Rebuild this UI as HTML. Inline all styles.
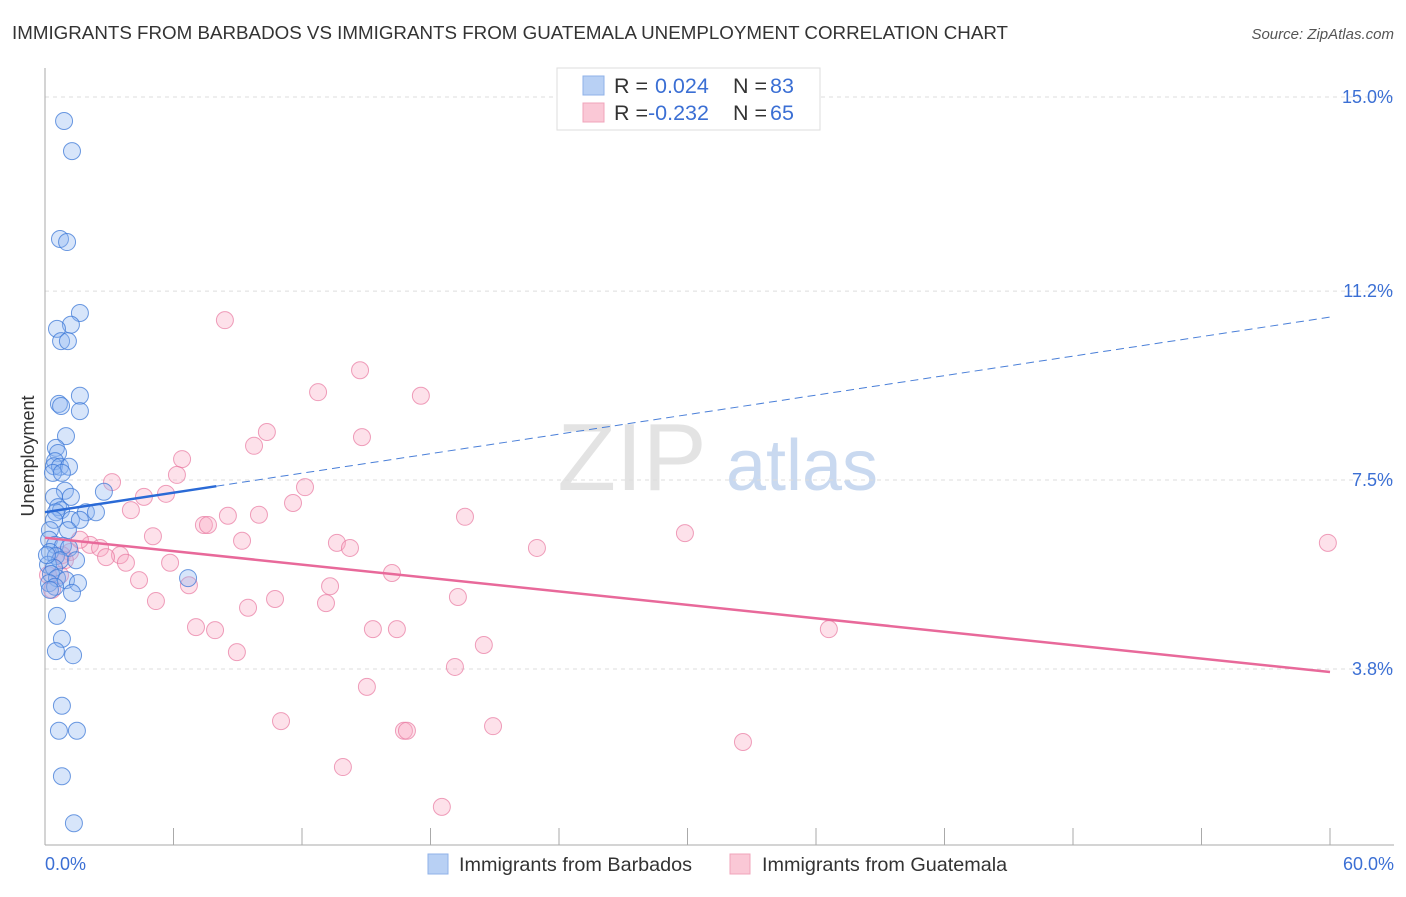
<!DOCTYPE html>
<html><head><meta charset="utf-8">
<style>
body{margin:0;background:#fff;font-family:"Liberation Sans",sans-serif;}
svg text{font-family:"Liberation Sans",sans-serif;}
</style></head>
<body>
<svg id="chart" width="1406" height="892" viewBox="0 0 1406 892" xmlns="http://www.w3.org/2000/svg">
<text x="12" y="39" font-size="18" fill="#333" textLength="996" lengthAdjust="spacingAndGlyphs">IMMIGRANTS FROM BARBADOS VS IMMIGRANTS FROM GUATEMALA UNEMPLOYMENT CORRELATION CHART</text>
<text x="1394" y="39" font-size="15" fill="#555" text-anchor="end" font-style="italic">Source: ZipAtlas.com</text>
<g>
<text x="632" y="490" font-size="96" fill="#ddd" font-family="Liberation Serif" text-anchor="middle" opacity="0.8">ZIP</text>
<text x="802" y="490" font-size="72" fill="#c9d9f0" text-anchor="middle">atlas</text>
</g>
<g id="grid"></g>
<g id="axes"></g>
<g id="points"></g>
<g id="trends"></g>
<text transform="translate(34,456) rotate(-90)" font-size="18" fill="#333" text-anchor="middle">Unemployment</text>
<g>
<rect x="557" y="68" width="263" height="62" fill="#fff" stroke="#ddd"/>
<rect x="583" y="76" width="21" height="19" fill="#b8d0f4" stroke="#8fb2e8"/>
<rect x="583" y="103" width="21" height="19" fill="#fac8d6" stroke="#f0a4bb"/>
<text x="614" y="93" font-size="21.5" fill="#333">R =</text>
<text x="655" y="93" font-size="21.5" fill="#3b6fd4">0.024</text>
<text x="733" y="93" font-size="21.5" fill="#333">N =</text>
<text x="770" y="93" font-size="21.5" fill="#3b6fd4">83</text>
<text x="614" y="120" font-size="21.5" fill="#333">R =</text>
<text x="648" y="120" font-size="21.5" fill="#3b6fd4">-0.232</text>
<text x="733" y="120" font-size="21.5" fill="#333">N =</text>
<text x="770" y="120" font-size="21.5" fill="#3b6fd4">65</text>
</g>
<g>
<rect x="428" y="854" width="20" height="20" fill="#b8d0f4" stroke="#8fb2e8"/>
<text x="459" y="871" font-size="19.8" fill="#333">Immigrants from Barbados</text>
<rect x="730" y="854" width="20" height="20" fill="#fac8d6" stroke="#f0a4bb"/>
<text x="762" y="871" font-size="19.8" fill="#333">Immigrants from Guatemala</text>
</g>
</svg>
<script>
const yTicks=[15.0,11.2,7.5,3.8];
const yTickLabels=["15.0%","11.2%","7.5%","3.8%"];
const xTicks=[0,6,12,18,24,30,36,42,48,54,60];
const xMinLabel="0.0%", xMaxLabel="60.0%";
const barbadosX=[0.89,1.26,0.70,1.03,1.63,1.21,0.56,0.75,1.07,1.63,0.65,0.75,1.63,0.98,0.51,0.61,0.47,0.42,0.70,1.12,0.37,0.79,0.93,2.75,0.42,0.61,1.21,0.75,0.51,1.91,2.38,1.21,1.63,0.42,0.23,1.07,0.19,0.47,0.84,1.12,0.23,0.51,0.70,1.45,0.14,0.42,0.28,0.56,0.98,1.54,0.19,0.47,1.26,6.68,0.56,0.79,0.51,1.31,0.79,0.65,1.49,0.79,1.35,0.23,0.09];
const barbadosY=[14.53,13.94,12.22,12.16,10.77,10.54,10.46,10.22,10.22,9.15,8.99,8.95,8.85,8.36,8.13,8.03,7.87,7.77,7.76,7.76,7.64,7.64,7.29,7.27,7.17,6.97,7.17,6.91,6.87,6.87,6.87,6.72,6.72,6.72,6.52,6.52,6.33,6.23,6.21,6.17,6.09,6.01,5.93,5.93,5.84,5.78,5.66,5.58,5.54,5.48,5.48,5.41,5.29,5.58,4.84,4.39,4.15,4.07,3.08,2.59,2.59,1.70,0.78,5.35,6.03];
const guatemalaX=[8.40,14.71,12.75,17.55,10.36,14.80,9.76,6.40,3.13,6.16,12.14,5.65,4.62,11.58,4.01,8.54,9.99,19.61,7.42,7.61,29.88,5.04,9.20,13.63,14.24,22.97,59.90,2.10,2.57,3.50,2.85,3.78,1.17,0.79,1.63,5.84,16.20,4.39,13.31,6.72,10.74,19.28,5.18,13.12,9.48,7.05,7.94,15.31,16.43,36.60,8.96,20.49,19.14,15.03,11.02,20.92,16.76,16.90,32.59,13.91,18.53,0.33,0.70,0.93,0.14];
const guatemalaY=[10.63,9.65,9.22,9.15,8.44,8.34,8.17,7.91,7.46,7.60,7.36,7.23,7.17,7.05,6.91,6.80,6.82,6.78,6.62,6.62,6.46,6.40,6.31,6.27,6.17,6.17,6.27,6.23,6.17,6.03,5.99,5.88,6.09,6.03,6.33,5.88,5.68,5.54,5.42,5.44,5.17,5.21,5.13,5.09,5.00,4.62,4.56,4.58,4.58,4.58,4.13,4.27,3.84,3.45,2.78,2.68,2.59,2.59,2.37,1.88,1.10,5.35,5.64,5.93,5.64];
const barbadosTrend=[6.87,10.69];
const guatemalaTrend=[6.37,3.74];
const barbadosSolidEnd=8;

const NS="http://www.w3.org/2000/svg";
const X=v=>45+v*(1285/60);
const Y=v=>97+(15-v)*51.07;
function mk(tag,attrs,parent){const e=document.createElementNS(NS,tag);for(const k in attrs)e.setAttribute(k,attrs[k]);parent.appendChild(e);return e;}
const grid=document.getElementById('grid'),axes=document.getElementById('axes'),pts=document.getElementById('points'),tr=document.getElementById('trends');
yTicks.forEach((t,i)=>{
  const l=mk('line',{x1:45,x2:1394,y1:Y(t),y2:Y(t),stroke:'#ddd','stroke-dasharray':'4,4'},grid);
  
  
  const tx=mk('text',{x:1393,y:Y(t)+6,'font-size':18,fill:'#3b6fd4','text-anchor':'end'},axes);
  tx.textContent=yTickLabels[i];
  
  
});
const ya=mk('line',{x1:45,x2:45,y1:68,y2:845,stroke:'#aaa'},axes);


const xa=mk('line',{x1:45,x2:1394,y1:845,y2:845,stroke:'#aaa'},axes);


xTicks.forEach(t=>{
  const l=mk('line',{x1:X(t),x2:X(t),y1:828,y2:845,stroke:'#aaa'},axes);
  
  
});
const xl0=mk('text',{x:45,y:870,'font-size':18,fill:'#3b6fd4'},axes);xl0.textContent=xMinLabel;


const xl1=mk('text',{x:1394,y:870,'font-size':18,fill:'#3b6fd4','text-anchor':'end'},axes);xl1.textContent=xMaxLabel;



guatemalaX.forEach((x,i)=>{
  const c=mk('circle',{cx:X(x),cy:Y(guatemalaY[i]),r:8.5,fill:'rgba(248,170,195,0.35)',stroke:'rgba(232,120,160,0.7)','stroke-width':1},pts);
  
  
});
barbadosX.forEach((x,i)=>{
  const c=mk('circle',{cx:X(x),cy:Y(barbadosY[i]),r:8.5,fill:'rgba(140,180,240,0.35)',stroke:'rgba(60,120,215,0.75)','stroke-width':1},pts);
  
  
});
const bAt=x=>barbadosTrend[0]+(barbadosTrend[1]-barbadosTrend[0])*x/60;
const gAt=x=>guatemalaTrend[0]+(guatemalaTrend[1]-guatemalaTrend[0])*x/60;
const b1=mk('line',{x1:X(0),y1:Y(bAt(0)),x2:X(barbadosSolidEnd),y2:Y(bAt(barbadosSolidEnd)),stroke:'#2a6ad6','stroke-width':2.5},tr);


const b2=mk('line',{x1:X(barbadosSolidEnd),y1:Y(bAt(barbadosSolidEnd)),x2:X(60),y2:Y(bAt(60)),stroke:'#4a7fd8','stroke-width':1,'stroke-dasharray':'8,5'},tr);


const g1=mk('line',{x1:X(0),y1:Y(gAt(0)),x2:X(60),y2:Y(gAt(60)),stroke:'#e8699a','stroke-width':2.5},tr);


</script>
</body></html>
